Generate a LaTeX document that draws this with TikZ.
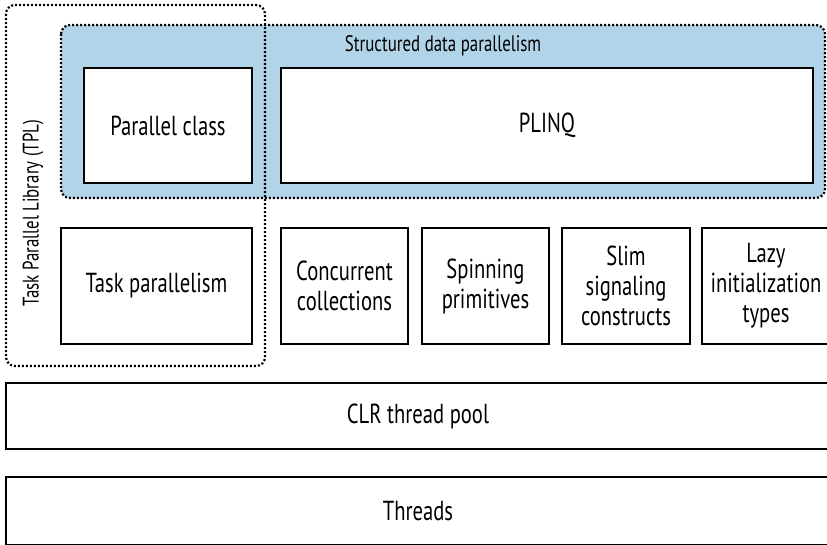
\documentclass[tikz,border=0pt]{standalone}
\usepackage{fontspec}
\setmainfont{PT Sans}[FakeStretch=0.75]
\definecolor{sdpblue}{RGB}{178,212,232}
\tikzset{
  x=1pt,y=-1pt,
  solidbox/.style={draw=black,line width=2.4pt,fill=white,align=center,font=\fontsize{27.5}{30}\selectfont},
  dotline/.style={draw=black,line width=2.2pt,dash pattern=on 2pt off 2pt,rounded corners=9pt},
  lbl/.style={font=\fontsize{22.5}{24}\selectfont,inner sep=0pt}
}
\begin{document}
\begin{tikzpicture}
\clip (0,0) rectangle (827,544);
\fill[white] (0,0) rectangle (827,544);
% structured data parallelism region
\path[fill=sdpblue,dotline] (61,25) rectangle (825,198);
\node[lbl] (sdp) at (443,46) {Structured data parallelism};
% TPL region
\path[dotline] (6,5) rectangle (265,366);
\node[lbl,rotate=90] (tpl) at (33,213) {Task Parallel Library (TPL)};
% boxes in blue region
\node[solidbox,minimum width=168pt,minimum height=115pt] (pc) at (168,125.5) {Parallel class};
\node[solidbox,minimum width=532pt,minimum height=115pt] (plinq) at (547,125.5) {PLINQ};
% row of boxes
\node[solidbox,minimum width=191pt,minimum height=116pt] (tp) at (156.5,286) {Task parallelism};
\node[solidbox,minimum width=127pt,minimum height=116pt] (cc) at (344.5,286) {Concurrent\\collections};
\node[solidbox,minimum width=127pt,minimum height=116pt] (sp) at (485.5,286) {Spinning\\primitives};
\node[solidbox,minimum width=128pt,minimum height=116pt] (ss) at (626,286) {Slim\\signaling\\constructs};
\node[solidbox,minimum width=128pt,minimum height=116pt] (li) at (766,286) {Lazy\\initialization\\types};
% bottom layers
\node[solidbox,minimum width=824pt,minimum height=66pt] (clr) at (418,416) {CLR thread pool};
\node[solidbox,minimum width=824pt,minimum height=68pt] (thr) at (418,511) {Threads};
\end{tikzpicture}
\end{document}
